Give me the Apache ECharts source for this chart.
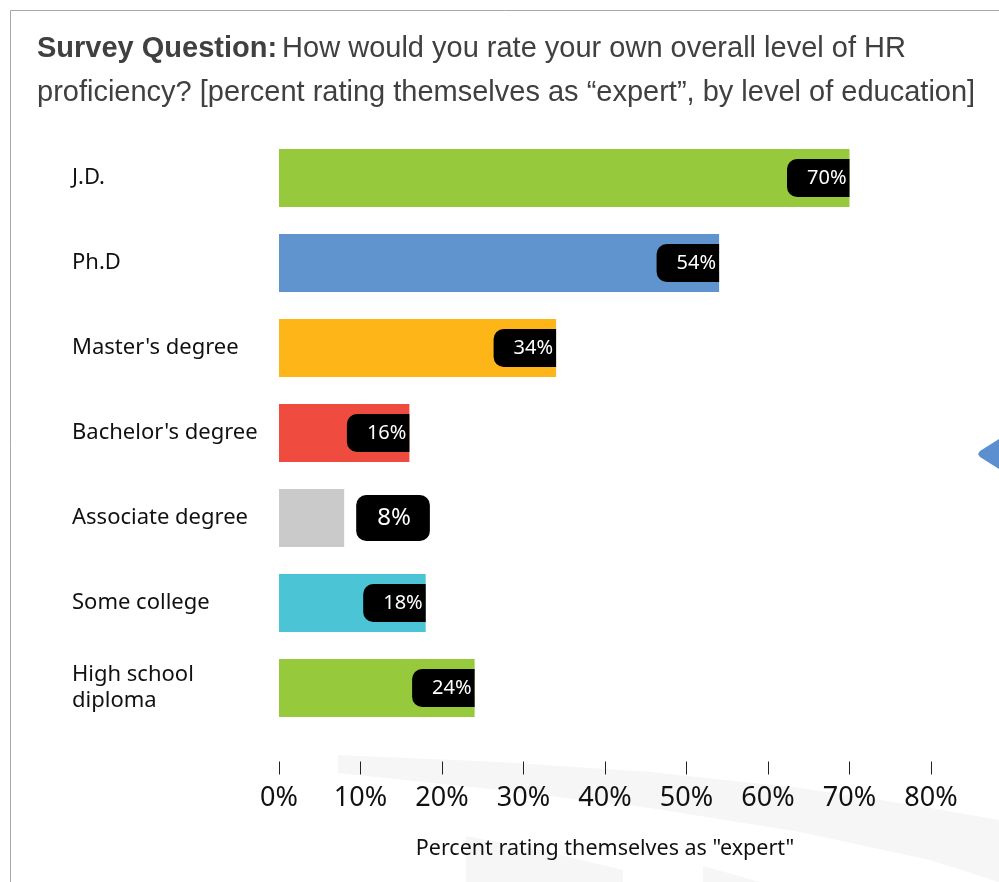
<!DOCTYPE html>
<html>
<head>
<meta charset="utf-8">
<style>
  html, body { margin: 0; padding: 0; background: #fff; }
  #chart { width: 999px; height: 882px; }
</style>
<script src="https://cdn.jsdelivr.net/npm/echarts@6/dist/echarts.min.js"></script>
</head>
<body>
<div id="chart"></div>
<script>
// Education levels, top to bottom
const categories = [
  'J.D.',
  'Ph.D',
  "Master's degree",
  "Bachelor's degree",
  'Associate degree',
  'Some college',
  'High school\ndiploma'
];
// Percent rating themselves as "expert"
const values = [70, 54, 34, 16, 8, 18, 24];
const barColors = ['#97c93d', '#5f94cf', '#fdb517', '#ef4b3f', '#cacaca', '#4bc4d6', '#97c93d'];
const xTicks = [0, 10, 20, 30, 40, 50, 60, 70, 80];

const chart = echarts.init(document.getElementById('chart'), null, { renderer: 'canvas' });

const pillLabel = {
  show: true,
  position: 'insideRight',
  distance: 0,
  formatter: '{c}%',
  color: '#fff',
  fontFamily: 'Noto Sans',
  fontSize: 20,
  lineHeight: 20,
  backgroundColor: '#000',
  borderRadius: [10, 0, 0, 10],
  padding: [9, 3, 9, 20]
};

// Short bars carry their value outside the bar in a fully rounded pill
const outsideLabel = {
  show: true,
  position: 'right',
  distance: 12,
  formatter: '{c}%',
  color: '#fff',
  fontFamily: 'Noto Sans',
  fontSize: 24,
  lineHeight: 26,
  backgroundColor: '#000',
  borderRadius: 10,
  padding: [10, 19, 10, 21]
};

const seriesData = values.map((v, i) => {
  const item = { value: v, itemStyle: { color: barColors[i] } };
  if (v < 10) item.label = outsideLabel;
  return item;
});

const option = {
  backgroundColor: '#fff',
  animation: false,
  title: {
    left: 37,
    top: 27,
    padding: 0,
    text: '{b|Survey Question:} {n|How would you rate your own overall level of HR}\n{n|proficiency? [percent rating themselves as \u201cexpert\u201d, by level of education]}',
    textStyle: {
      rich: {
        b: { fontFamily: 'Liberation Sans', fontWeight: 'bold', fontSize: 29, lineHeight: 44, color: '#404040' },
        n: { fontFamily: 'Liberation Sans', fontWeight: 'normal', fontSize: 29, lineHeight: 44, color: '#404040' }
      }
    }
  },
  grid: { left: 279, right: 68, top: 135.5, bottom: 151.5, containLabel: false },
  xAxis: {
    type: 'value',
    min: xTicks[0],
    max: xTicks[xTicks.length - 1],
    interval: 10,
    offset: 31,
    axisLine: { show: false },
    splitLine: { show: false },
    axisTick: { show: true, length: 13, lineStyle: { color: '#222', width: 1 } },
    axisLabel: {
      formatter: '{value}%',
      fontFamily: 'Noto Sans',
      fontSize: 27,
      color: '#111',
      margin: 23
    },
    name: 'Percent rating themselves as "expert"',
    nameLocation: 'middle',
    nameGap: 76,
    nameTextStyle: { fontFamily: 'Noto Sans', fontSize: 21.5, color: '#111' }
  },
  yAxis: {
    type: 'category',
    data: categories,
    inverse: true,
    axisLine: { show: false },
    axisTick: { show: false },
    splitLine: { show: false },
    axisLabel: {
      align: 'left',
      margin: 207,
      fontFamily: 'Noto Sans',
      fontSize: 22,
      lineHeight: 26,
      color: '#111'
    }
  },
  series: [{
    type: 'bar',
    data: seriesData,
    barWidth: 58,
    label: pillLabel
  }],
  graphic: [
    // faint watermark arcs near the bottom
    {
      type: 'polygon', z: -10, silent: true,
      shape: { points: [[338, 755], [500, 762], [650, 772], [800, 788], [920, 806], [999, 820], [999, 882], [930, 860], [800, 832], [650, 808], [500, 790], [338, 773]] },
      style: { fill: '#f6f6f6' }
    },
    {
      type: 'polygon', z: -10, silent: true,
      shape: { points: [[466, 836], [540, 850], [623, 870], [623, 882], [466, 882]] },
      style: { fill: '#f6f6f6' }
    },
    {
      type: 'polygon', z: -10, silent: true,
      shape: { points: [[703, 866], [760, 882], [703, 882]] },
      style: { fill: '#f6f6f6' }
    },
    // frame lines
    {
      type: 'polyline', silent: true,
      shape: { points: [[10.5, 882], [10.5, 10.5], [999, 10.5]] },
      style: { stroke: '#a8a8a8', lineWidth: 1, fill: null }
    },
    // side arrow
    {
      type: 'polygon', silent: true,
      shape: { points: [[999, 439], [980, 451], [978, 454], [980, 457], [999, 469]] },
      style: { fill: '#5b8fcf' }
    }
  ]
};

chart.setOption(option);
</script>
</body>
</html>
